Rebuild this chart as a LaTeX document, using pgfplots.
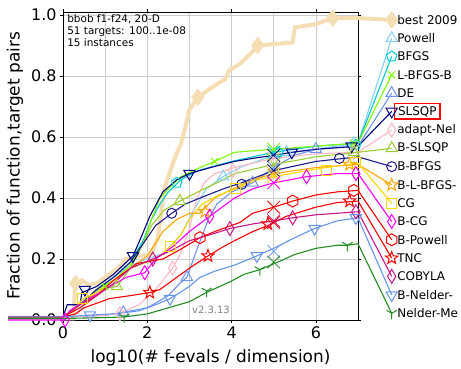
\documentclass[border=0pt]{standalone}
\usepackage{pgfplots}
\pgfplotsset{compat=1.18}
\usepackage{fontspec}
\setmainfont{DejaVu Sans}
\usetikzlibrary{plotmarks}

\definecolor{wheatc}{HTML}{F5DEB3}
\definecolor{powellc}{HTML}{87CEFA}
\definecolor{bfgsc}{HTML}{00C8D0}
\definecolor{lbfgsbc}{HTML}{7CFC00}
\definecolor{dec}{HTML}{7092F0}
\definecolor{slsqpc}{HTML}{000080}
\definecolor{adaptc}{HTML}{FFB6C1}
\definecolor{bslsqpc}{HTML}{9ACD32}
\definecolor{bbfgsc}{HTML}{1A1A8C}
\definecolor{blbfgsc}{HTML}{FFA500}
\definecolor{cgc}{HTML}{FFD700}
\definecolor{bcgc}{HTML}{FF00FF}
\definecolor{bpowellc}{HTML}{FF0000}
\definecolor{tncc}{HTML}{FF0000}
\definecolor{cobylac}{HTML}{C71585}
\definecolor{bnelderc}{HTML}{6495ED}
\definecolor{nelderc}{HTML}{228B22}

\pgfdeclareplotmark{tdown}{%
  \pgfpathmoveto{\pgfpointpolar{-90}{\pgfplotmarksize}}%
  \pgfpathlineto{\pgfpointpolar{30}{\pgfplotmarksize}}%
  \pgfpathlineto{\pgfpointpolar{150}{\pgfplotmarksize}}%
  \pgfpathclose\pgfusepathqstroke}
\pgfdeclareplotmark{tup}{%
  \pgfpathmoveto{\pgfpointpolar{90}{\pgfplotmarksize}}%
  \pgfpathlineto{\pgfpointpolar{210}{\pgfplotmarksize}}%
  \pgfpathlineto{\pgfpointpolar{330}{\pgfplotmarksize}}%
  \pgfpathclose\pgfusepathqstroke}
\pgfdeclareplotmark{hexa}{%
  \pgfpathmoveto{\pgfpointpolar{30}{\pgfplotmarksize}}%
  \pgfpathlineto{\pgfpointpolar{90}{\pgfplotmarksize}}%
  \pgfpathlineto{\pgfpointpolar{150}{\pgfplotmarksize}}%
  \pgfpathlineto{\pgfpointpolar{210}{\pgfplotmarksize}}%
  \pgfpathlineto{\pgfpointpolar{270}{\pgfplotmarksize}}%
  \pgfpathlineto{\pgfpointpolar{330}{\pgfplotmarksize}}%
  \pgfpathclose\pgfusepathqstroke}
\pgfdeclareplotmark{thind}{%
  \pgfpathmoveto{\pgfqpoint{0pt}{\pgfplotmarksize}}%
  \pgfpathlineto{\pgfqpoint{0.6\pgfplotmarksize}{0pt}}%
  \pgfpathlineto{\pgfqpoint{0pt}{-\pgfplotmarksize}}%
  \pgfpathlineto{\pgfqpoint{-0.6\pgfplotmarksize}{0pt}}%
  \pgfpathclose\pgfusepathqstroke}
\pgfdeclareplotmark{ostar}{%
  \pgfpathmoveto{\pgfpointpolar{90}{\pgfplotmarksize}}%
  \pgfpathlineto{\pgfpointpolar{126}{0.42\pgfplotmarksize}}%
  \pgfpathlineto{\pgfpointpolar{162}{\pgfplotmarksize}}%
  \pgfpathlineto{\pgfpointpolar{198}{0.42\pgfplotmarksize}}%
  \pgfpathlineto{\pgfpointpolar{234}{\pgfplotmarksize}}%
  \pgfpathlineto{\pgfpointpolar{270}{0.42\pgfplotmarksize}}%
  \pgfpathlineto{\pgfpointpolar{306}{\pgfplotmarksize}}%
  \pgfpathlineto{\pgfpointpolar{342}{0.42\pgfplotmarksize}}%
  \pgfpathlineto{\pgfpointpolar{18}{\pgfplotmarksize}}%
  \pgfpathlineto{\pgfpointpolar{54}{0.42\pgfplotmarksize}}%
  \pgfpathclose\pgfusepathqstroke}
\pgfdeclareplotmark{tri}{%
  \pgfpathmoveto{\pgfpointorigin}\pgfpathlineto{\pgfpointpolar{-90}{\pgfplotmarksize}}%
  \pgfpathmoveto{\pgfpointorigin}\pgfpathlineto{\pgfpointpolar{30}{\pgfplotmarksize}}%
  \pgfpathmoveto{\pgfpointorigin}\pgfpathlineto{\pgfpointpolar{150}{\pgfplotmarksize}}%
  \pgfusepathqstroke}

% #1 colour, #2 mark, #3 curve, #4 marks on curve, #5 legend y, #6 cross y, #7 mark size
\newcommand{\series}[7]{%
  \addplot[#1, line width=1.1pt, no marks] coordinates {#3 (7.8,#5)};
  \addplot[#1, only marks, mark=#2, mark size=#7, line width=1pt] coordinates {#4 (7.8,#5)};
  \addplot[#1, only marks, mark=x, mark size=9pt, line width=0.8pt] coordinates {(5,#6)};
}

\begin{document}
\begin{tikzpicture}
\begin{axis}[
  at={(0,0)}, anchor=south west,
  width=295bp, height=308bp, scale only axis,
  xmin=0, xmax=7, ymin=0, ymax=1.01,
  clip=false,
  axis line style={black, line width=0.9pt},
  xtick={0,2,4,6}, minor xtick={1,3,5},
  ytick={0,0.2,0.4,0.6,0.8,1.0},
  grid=both,
  major grid style={gray!40, line width=0.7pt},
  minor grid style={gray!40, line width=0.7pt},
  tick align=outside, major tick length=3pt, minor tick length=0pt,
  tick style={black, line width=0.7pt},
  /pgf/number format/assume math mode=true,
  yticklabel style={/pgf/number format/.cd, fixed, fixed zerofill, precision=1},
  tick label style={font=\fontsize{16}{18}\selectfont},
  xlabel={log10(\# f-evals / dimension)},
  ylabel={Fraction of function,target pairs},
  label style={font=\fontsize{17}{20}\selectfont},
  xlabel style={at={(axis description cs:0.5,-0.123)}, anchor=center},
  ylabel style={at={(axis description cs:-0.163,0.5)}, anchor=center},
]
% best 2009
\addplot[wheatc, line width=4pt, no marks] coordinates {
(-1.3,0.005) (0.25,0.005) (0.28,0.1) (0.33,0.12) (0.45,0.13) (0.6,0.115) (0.8,0.12) (1.0,0.14) (1.3,0.17) (1.5,0.2) (1.8,0.21) (2.1,0.215) (2.25,0.27) (2.33,0.35) (2.4,0.43) (2.55,0.49) (2.65,0.53) (2.8,0.58) (2.9,0.63) (3.0,0.69) (3.2,0.73) (3.5,0.76) (3.85,0.79) (3.95,0.82) (4.2,0.84) (4.35,0.86) (4.5,0.88) (4.62,0.9) (5.0,0.905) (5.45,0.91) (5.5,0.96) (6.0,0.97) (6.4,0.99) (7.0,0.99) (7.8,0.984)};
\addplot[wheatc, only marks, mark=diamond*, mark size=8.5pt] coordinates {(0.3,0.12) (3.2,0.73) (4.62,0.9) (6.4,0.99) (7.8,0.984)};

\series{powellc}{tup}{(-1.3,0.01) (0,0.01) (0.3,0.02) (0.6,0.06) (0.9,0.11) (1.2,0.14) (1.6,0.18) (2.0,0.2) (2.4,0.22) (2.8,0.28) (3.1,0.36) (3.4,0.43) (3.8,0.47) (4.2,0.5) (5,0.54) (6,0.56) (7,0.58)}{(3.8,0.47) (5.3,0.55) (6.9,0.58)}{0.924}{0.54}{6.5pt}
\series{bfgsc}{pentagon}{(-1.3,0.01) (0,0.01) (0.4,0.05) (0.8,0.1) (1.2,0.14) (1.6,0.19) (1.9,0.26) (2.1,0.33) (2.3,0.38) (2.5,0.42) (2.8,0.46) (3.2,0.49) (4,0.52) (5,0.55) (6,0.57) (7,0.58)}{(2.7,0.45) (5.1,0.55) (6.95,0.575)}{0.864}{0.55}{5.5pt}
\series{lbfgsbc}{x}{(-1.3,0.01) (0,0.01) (0.4,0.05) (0.8,0.1) (1.2,0.13) (1.6,0.18) (1.9,0.25) (2.1,0.33) (2.3,0.4) (2.5,0.43) (2.8,0.47) (3.25,0.5) (3.6,0.52) (4.07,0.55) (5,0.56) (6,0.57) (7,0.58)}{(1.0,0.11) (3.6,0.52) (6.9,0.58)}{0.804}{0.56}{5pt}
\series{dec}{tup}{(-1.3,0.01) (0,0.01) (1.0,0.015) (1.43,0.025) (2.0,0.04) (2.5,0.08) (2.77,0.12) (2.94,0.14) (3.2,0.24) (3.45,0.33) (3.65,0.38) (4.0,0.42) (4.5,0.45) (5,0.5) (5.5,0.54) (6,0.56) (7,0.57)}{(1.43,0.025) (2.94,0.14) (4.5,0.45) (6.0,0.56)}{0.744}{0.5}{6.5pt}
\series{slsqpc}{tdown}{(-1.3,0.01) (0,0.01) (0.1,0.05) (0.4,0.05) (0.45,0.09) (0.8,0.11) (1.2,0.15) (1.66,0.21) (1.85,0.27) (2.06,0.34) (2.37,0.42) (2.7,0.46) (3.0,0.48) (3.5,0.5) (4.07,0.52) (4.5,0.53) (5,0.54) (5.43,0.55) (6,0.56) (7,0.57)}{(0.52,0.1) (1.66,0.21) (3.0,0.48) (5.43,0.55) (6.85,0.57)}{0.684}{0.54}{6.5pt}
\series{adaptc}{thind}{(-1.3,0.01) (0,0.01) (1.0,0.015) (1.4,0.025) (1.8,0.05) (2.2,0.1) (2.6,0.17) (2.8,0.22) (3.0,0.3) (3.18,0.4) (3.35,0.45) (3.6,0.48) (4.07,0.5) (5,0.53) (6,0.545) (7,0.55)}{(1.35,0.02) (2.6,0.17) (4.03,0.49) (6.9,0.55)}{0.623}{0.53}{7pt}
\series{bslsqpc}{tup}{(-1.3,0.01) (0,0.01) (0.4,0.05) (0.8,0.1) (1.28,0.11) (1.6,0.17) (1.9,0.25) (2.1,0.31) (2.4,0.36) (2.77,0.39) (3.2,0.42) (3.8,0.46) (4.07,0.48) (5,0.51) (6,0.535) (7,0.55)}{(1.28,0.11) (2.77,0.39) (6.9,0.55)}{0.563}{0.51}{6.5pt}
\series{bbfgsc}{o}{(-1.3,0.01) (0,0.01) (0.4,0.05) (0.8,0.1) (1.2,0.14) (1.6,0.19) (1.9,0.25) (2.2,0.31) (2.58,0.35) (2.9,0.38) (3.25,0.4) (3.8,0.43) (4.24,0.45) (5,0.49) (6,0.52) (7,0.535)}{(2.58,0.35) (4.24,0.445) (6.56,0.53)}{0.503}{0.49}{5pt}
\series{blbfgsc}{ostar}{(-1.3,0.01) (0,0.01) (0.4,0.05) (0.8,0.09) (1.2,0.13) (1.6,0.17) (2.0,0.21) (2.37,0.29) (2.7,0.33) (3.0,0.35) (3.25,0.35) (3.6,0.4) (4.03,0.43) (4.5,0.46) (5,0.48) (6,0.5) (7,0.51)}{(3.37,0.355) (6.8,0.51)}{0.443}{0.48}{6.5pt}
\series{cgc}{square}{(-1.3,0.01) (0,0.01) (0.3,0.04) (0.47,0.07) (0.8,0.09) (1.2,0.13) (1.6,0.17) (2.0,0.19) (2.3,0.21) (2.54,0.24) (2.8,0.28) (3.0,0.33) (3.3,0.38) (3.7,0.41) (4.1,0.43) (4.6,0.46) (5,0.47) (6,0.495) (7,0.515)}{(0.47,0.07) (2.54,0.24) (4.1,0.43) (6.25,0.49) (6.95,0.515)}{0.383}{0.47}{5pt}
\series{bcgc}{thind}{(-1.3,0.0) (0,0.0) (0.05,0.0) (0.15,0.03) (0.5,0.06) (1.0,0.1) (1.5,0.14) (1.94,0.155) (2.2,0.2) (2.6,0.24) (3.0,0.29) (3.48,0.34) (4.07,0.4) (4.5,0.43) (5,0.45) (5.78,0.47) (6.5,0.48) (7,0.48)}{(0.05,0.0) (1.94,0.155) (3.48,0.34) (5.78,0.47) (6.95,0.48)}{0.323}{0.45}{7pt}
\series{bpowellc}{hexa}{(-1.3,0.01) (0,0.01) (0.4,0.04) (0.8,0.08) (1.2,0.13) (1.75,0.185) (2.37,0.2) (2.77,0.23) (3.25,0.27) (3.6,0.29) (4.2,0.32) (4.5,0.35) (5,0.37) (5.45,0.39) (6,0.41) (6.5,0.42) (7,0.425)}{(3.25,0.27) (5.45,0.39) (6.9,0.425)}{0.263}{0.37}{6pt}
\series{tncc}{ostar}{(-1.3,0.01) (0,0.01) (0.3,0.02) (0.5,0.04) (1.1,0.07) (1.6,0.08) (2.06,0.09) (2.3,0.1) (2.6,0.13) (3.0,0.17) (3.44,0.21) (3.8,0.24) (4.07,0.26) (4.5,0.29) (4.86,0.31) (5.3,0.34) (6,0.37) (6.5,0.385) (7,0.39)}{(2.06,0.09) (3.44,0.21) (4.86,0.315) (6.8,0.39)}{0.203}{0.32}{6.5pt}
\series{cobylac}{thind}{(-1.3,0.01) (0,0.01) (0.4,0.05) (0.8,0.08) (1.2,0.12) (1.6,0.17) (2.13,0.2) (2.6,0.23) (3.0,0.26) (3.5,0.28) (3.96,0.3) (4.5,0.315) (5,0.325) (5.45,0.335) (6,0.345) (6.5,0.35) (7,0.355)}{(2.13,0.2) (3.96,0.3) (5.45,0.335) (6.95,0.355)}{0.143}{0.325}{7pt}
\series{bnelderc}{tdown}{(-1.3,0.01) (0,0.01) (0.64,0.016) (1.2,0.02) (1.8,0.03) (2.2,0.05) (2.54,0.07) (3.0,0.11) (3.25,0.14) (3.6,0.16) (4.07,0.18) (4.6,0.21) (5.0,0.235) (5.5,0.27) (5.97,0.3) (6.5,0.325) (7,0.335)}{(0.64,0.016) (2.54,0.07) (4.6,0.21) (5.97,0.3) (6.95,0.335)}{0.082}{0.225}{6.5pt}
\series{nelderc}{tri}{(-1.3,0.005) (0,0.005) (1.0,0.008) (1.45,0.01) (2.0,0.02) (2.5,0.04) (3.0,0.06) (3.4,0.09) (3.96,0.125) (4.3,0.15) (4.67,0.165) (5.1,0.19) (5.5,0.215) (6.0,0.235) (6.5,0.245) (6.75,0.245) (7,0.25)}{(1.45,0.01) (3.41,0.095) (4.67,0.165) (6.75,0.245)}{0.022}{0.19}{6pt}

% texts
\node[anchor=north west, align=left, inner sep=0pt, font=\fontsize{10.5}{12}\selectfont] at (rel axis cs:0.014,0.993) {bbob f1-f24, 20-D\\51 targets: 100..1e-08\\15 instances};
\node[anchor=west, inner sep=0pt, text=gray, font=\fontsize{10}{12}\selectfont] at (axis cs:3.06,0.033) {v2.3.13};
\begin{scope}[every node/.style={anchor=west, inner sep=0pt, font=\fontsize{12}{14}\selectfont}]
\node at (axis cs:7.93,0.984) {best 2009};
\node at (axis cs:7.93,0.924) {Powell};
\node at (axis cs:7.93,0.864) {BFGS};
\node at (axis cs:7.93,0.804) {L-BFGS-B};
\node at (axis cs:7.93,0.744) {DE};
\node at (axis cs:7.93,0.623) {adapt-Nel};
\node at (axis cs:7.93,0.563) {B-SLSQP};
\node at (axis cs:7.93,0.503) {B-BFGS};
\node at (axis cs:7.93,0.443) {B-L-BFGS-};
\node at (axis cs:7.93,0.383) {CG};
\node at (axis cs:7.93,0.323) {B-CG};
\node at (axis cs:7.93,0.263) {B-Powell};
\node at (axis cs:7.93,0.203) {TNC};
\node at (axis cs:7.93,0.143) {COBYLA};
\node at (axis cs:7.93,0.082) {B-Nelder-};
\node at (axis cs:7.93,0.022) {Nelder-Me};
\end{scope}
\node[anchor=west, draw=red, line width=1.6pt, inner xsep=3.5bp, inner ysep=2.5bp, text height=9bp, text depth=1.5bp, font=\fontsize{12}{14}\selectfont] at (axis cs:7.85,0.684) {SLSQP};
\end{axis}
\pgfresetboundingbox
\useasboundingbox (-63bp,-49bp) rectangle (398bp,320bp);
\end{tikzpicture}
\end{document}
